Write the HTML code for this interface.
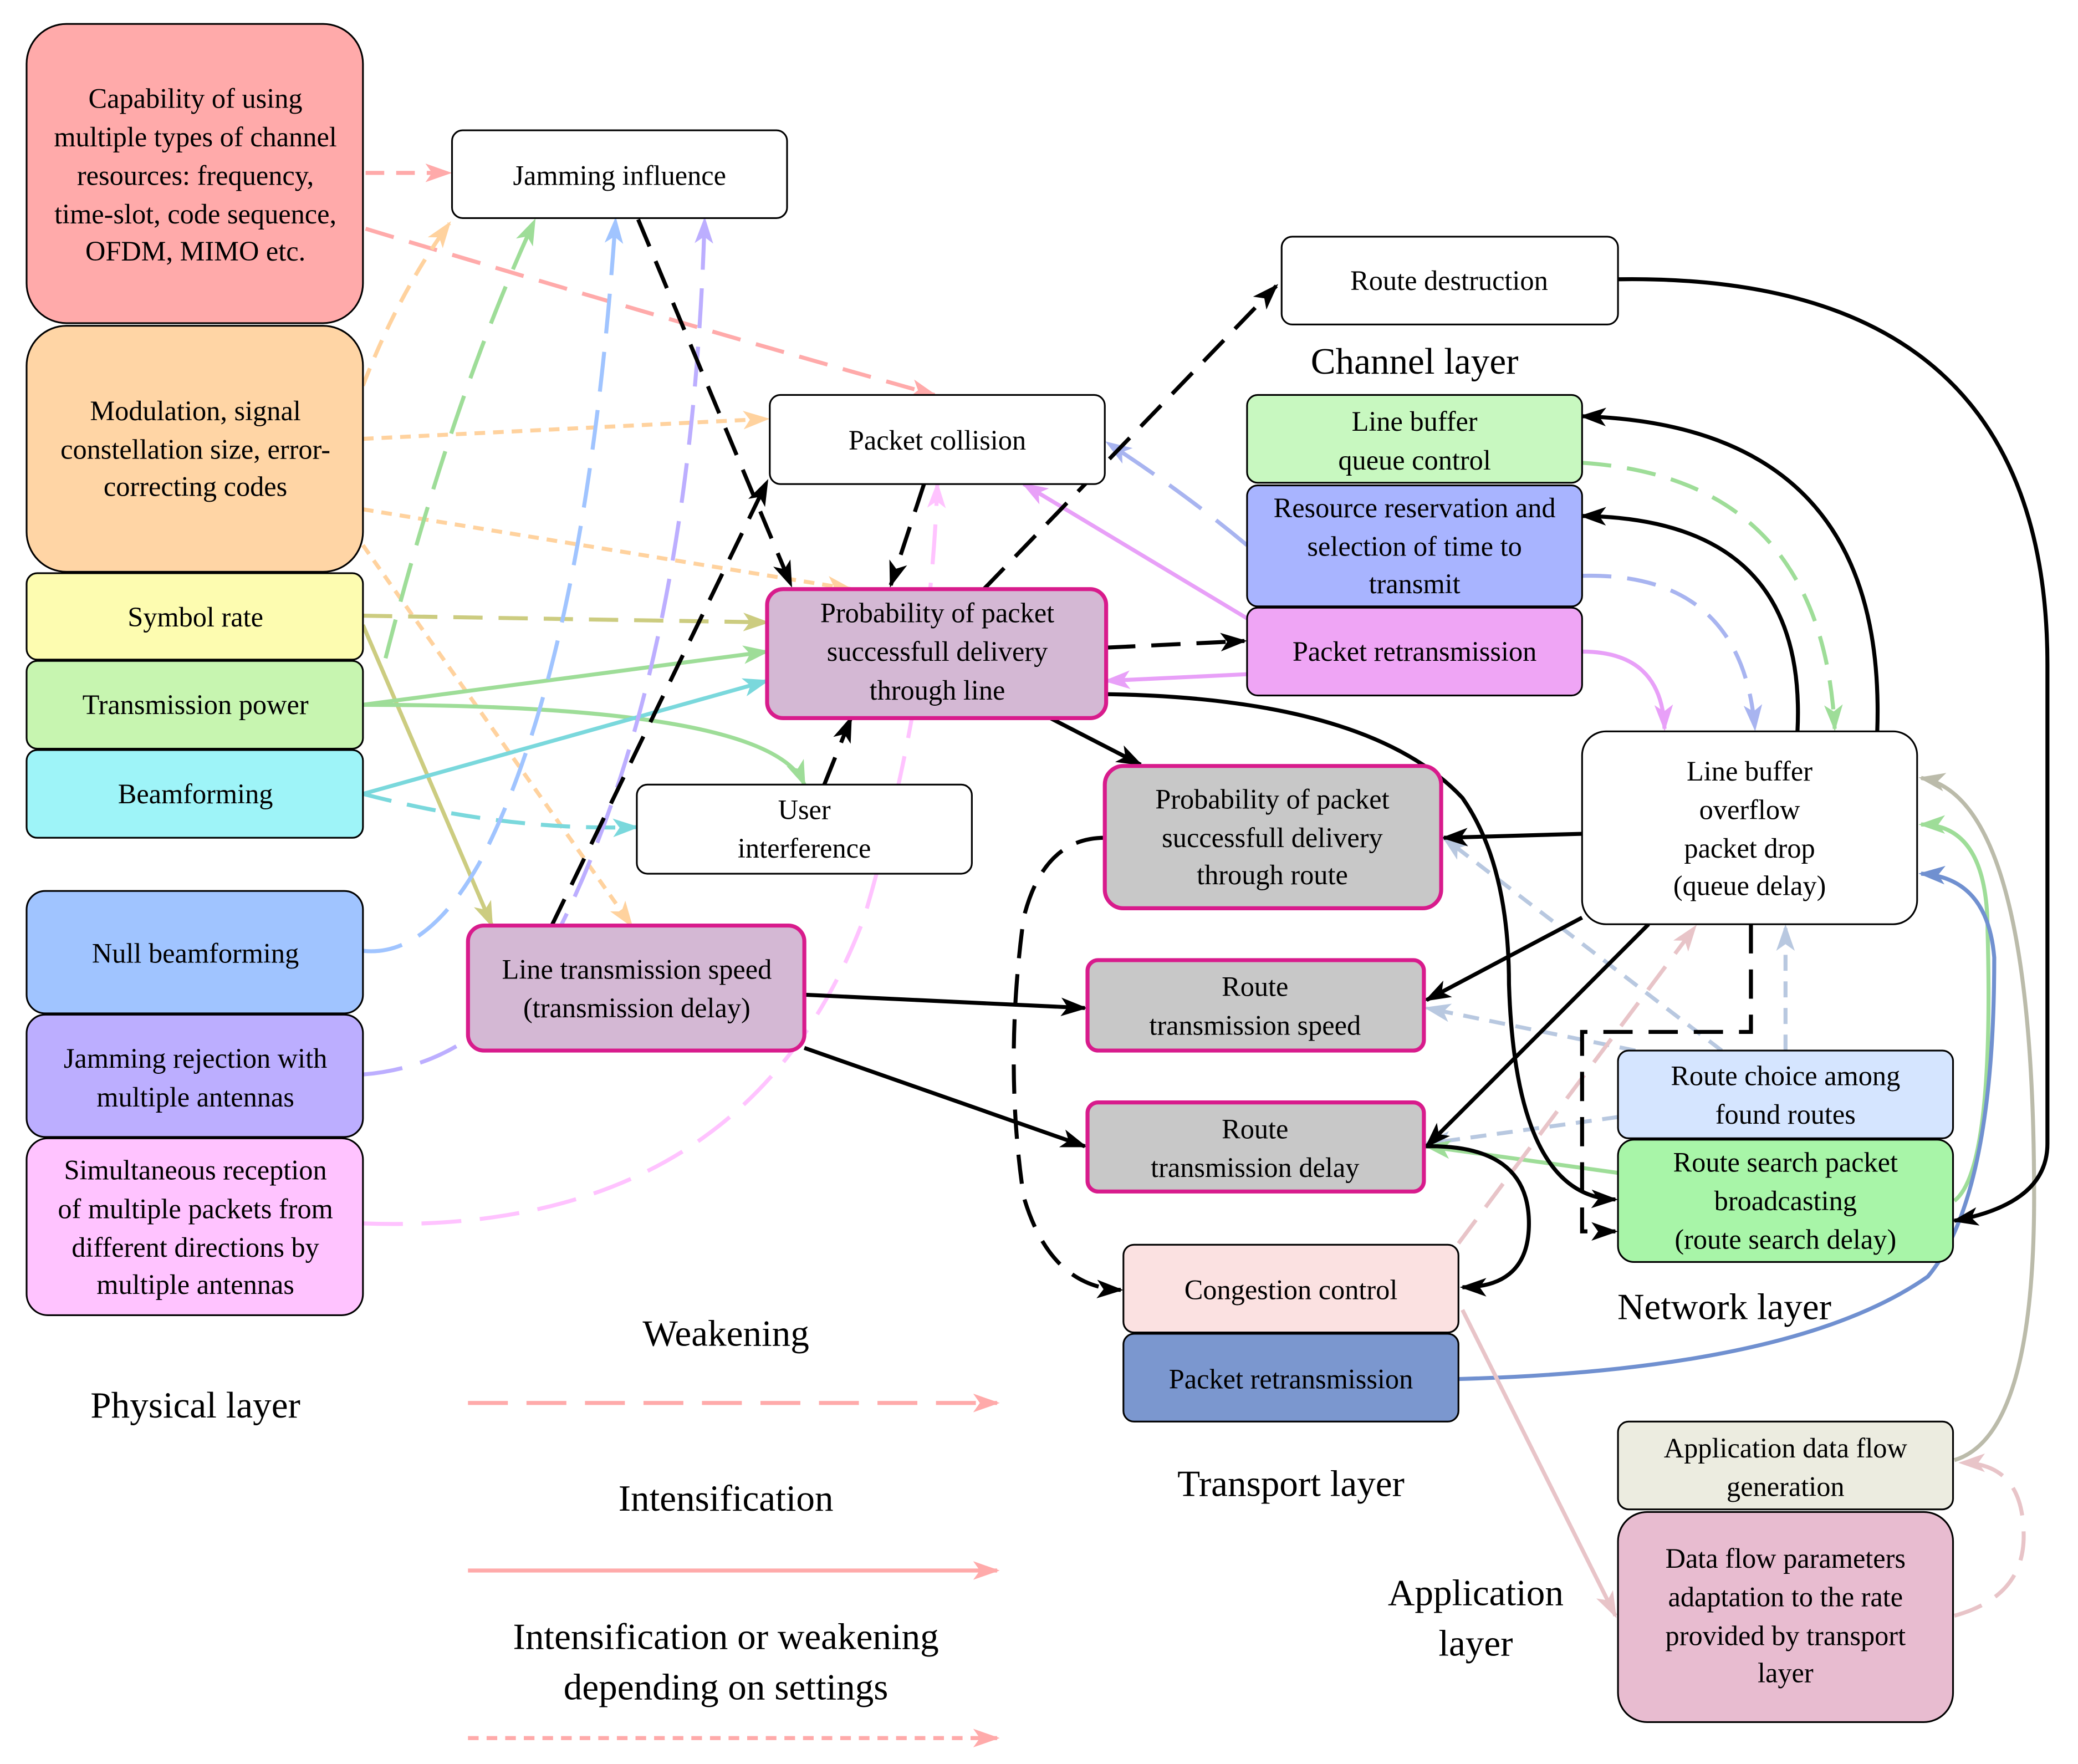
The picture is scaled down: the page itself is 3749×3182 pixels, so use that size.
<!DOCTYPE html>
<html><head><meta charset="utf-8"><style>html,body{margin:0;padding:0;background:#fff}svg{display:block;font-family:"Liberation Serif",serif}</style></head><body>
<svg xmlns="http://www.w3.org/2000/svg" width="3749" height="3182" viewBox="0 0 1563 1326.5" preserveAspectRatio="none" font-family="'Liberation Serif', serif">
<defs>
<marker id="mk" viewBox="0 0 20 14" refX="18" refY="7" markerWidth="20" markerHeight="14" markerUnits="userSpaceOnUse" orient="auto"><path d="M0,0 L20,7 L0,14 L5,7 Z" fill="#000"/></marker>
<marker id="ms" viewBox="0 0 20 14" refX="18" refY="7" markerWidth="20" markerHeight="14" markerUnits="userSpaceOnUse" orient="auto"><path d="M0,0 L20,7 L0,14 L5,7 Z" fill="#ffaaaa"/></marker>
<marker id="mo" viewBox="0 0 20 14" refX="18" refY="7" markerWidth="20" markerHeight="14" markerUnits="userSpaceOnUse" orient="auto"><path d="M0,0 L20,7 L0,14 L5,7 Z" fill="#ffd29e"/></marker>
<marker id="my" viewBox="0 0 20 14" refX="18" refY="7" markerWidth="20" markerHeight="14" markerUnits="userSpaceOnUse" orient="auto"><path d="M0,0 L20,7 L0,14 L5,7 Z" fill="#cccc80"/></marker>
<marker id="mg" viewBox="0 0 20 14" refX="18" refY="7" markerWidth="20" markerHeight="14" markerUnits="userSpaceOnUse" orient="auto"><path d="M0,0 L20,7 L0,14 L5,7 Z" fill="#9edd98"/></marker>
<marker id="mc" viewBox="0 0 20 14" refX="18" refY="7" markerWidth="20" markerHeight="14" markerUnits="userSpaceOnUse" orient="auto"><path d="M0,0 L20,7 L0,14 L5,7 Z" fill="#7ad8dc"/></marker>
<marker id="mb" viewBox="0 0 20 14" refX="18" refY="7" markerWidth="20" markerHeight="14" markerUnits="userSpaceOnUse" orient="auto"><path d="M0,0 L20,7 L0,14 L5,7 Z" fill="#a0c4ff"/></marker>
<marker id="mp" viewBox="0 0 20 14" refX="18" refY="7" markerWidth="20" markerHeight="14" markerUnits="userSpaceOnUse" orient="auto"><path d="M0,0 L20,7 L0,14 L5,7 Z" fill="#bcaeff"/></marker>
<marker id="mk2" viewBox="0 0 20 14" refX="18" refY="7" markerWidth="20" markerHeight="14" markerUnits="userSpaceOnUse" orient="auto"><path d="M0,0 L20,7 L0,14 L5,7 Z" fill="#ffc3ff"/></marker>
<marker id="mv" viewBox="0 0 20 14" refX="18" refY="7" markerWidth="20" markerHeight="14" markerUnits="userSpaceOnUse" orient="auto"><path d="M0,0 L20,7 L0,14 L5,7 Z" fill="#e8a0f8"/></marker>
<marker id="mt" viewBox="0 0 20 14" refX="18" refY="7" markerWidth="20" markerHeight="14" markerUnits="userSpaceOnUse" orient="auto"><path d="M0,0 L20,7 L0,14 L5,7 Z" fill="#a8b4f0"/></marker>
<marker id="ml" viewBox="0 0 20 14" refX="18" refY="7" markerWidth="20" markerHeight="14" markerUnits="userSpaceOnUse" orient="auto"><path d="M0,0 L20,7 L0,14 L5,7 Z" fill="#b8c8e0"/></marker>
<marker id="mgr" viewBox="0 0 20 14" refX="18" refY="7" markerWidth="20" markerHeight="14" markerUnits="userSpaceOnUse" orient="auto"><path d="M0,0 L20,7 L0,14 L5,7 Z" fill="#bbbbaa"/></marker>
<marker id="mbl" viewBox="0 0 20 14" refX="18" refY="7" markerWidth="20" markerHeight="14" markerUnits="userSpaceOnUse" orient="auto"><path d="M0,0 L20,7 L0,14 L5,7 Z" fill="#7090d0"/></marker>
<marker id="mr" viewBox="0 0 20 14" refX="18" refY="7" markerWidth="20" markerHeight="14" markerUnits="userSpaceOnUse" orient="auto"><path d="M0,0 L20,7 L0,14 L5,7 Z" fill="#e8c4c8"/></marker>
</defs>

<g fill="none" stroke-width="3">
<path d="M275,130 L338,130" stroke="#ffaaaa" stroke-dasharray="14 9" marker-end="url(#ms)"/>
<path d="M275,172 Q500,240 703,297" stroke="#ffaaaa" stroke-dasharray="22 12" marker-end="url(#ms)"/>
<path d="M273,290 Q300,220 338,168" stroke="#ffd29e" stroke-dasharray="14 9" marker-end="url(#mo)"/>
<path d="M273,330 L577,315" stroke="#ffd29e" stroke-dasharray="8 6" marker-end="url(#mo)"/>
<path d="M273,383 L640,443" stroke="#ffd29e" stroke-dasharray="8 6" marker-end="url(#mo)"/>
<path d="M273,410 L475,696" stroke="#ffd29e" stroke-dasharray="8 6" marker-end="url(#mo)"/>
<path d="M273,463 L577,468" stroke="#cccc80" stroke-dasharray="22 12" marker-end="url(#my)"/>
<path d="M273,470 L370,696" stroke="#cccc80" marker-end="url(#my)"/>
<path d="M290,495 Q340,300 402,166" stroke="#9edd98" stroke-dasharray="30 14" marker-end="url(#mg)"/>
<path d="M273,530 L577,490" stroke="#9edd98" marker-end="url(#mg)"/>
<path d="M273,530 Q580,530 605,590" stroke="#9edd98" marker-end="url(#mg)"/>
<path d="M273,597 L577,512" stroke="#7ad8dc" marker-end="url(#mc)"/>
<path d="M273,597 Q380,625 479,622" stroke="#7ad8dc" stroke-dasharray="22 12" marker-end="url(#mc)"/>
<path d="M273,715 Q320,720 360,650 Q440,500 463,165" stroke="#a0c4ff" stroke-dasharray="30 14" marker-end="url(#mb)"/>
<path d="M273,808 Q370,800 420,700 Q520,500 530,165" stroke="#bcaeff" stroke-dasharray="30 14" marker-end="url(#mp)"/>
<path d="M273,920 Q560,930 650,690 Q700,520 705,364" stroke="#ffc3ff" stroke-dasharray="30 14" marker-end="url(#mk2)"/>
<path d="M938,465 L770,364" stroke="#e8a0f8" marker-end="url(#mv)"/>
<path d="M938,507 L832,512" stroke="#e8a0f8" marker-end="url(#mv)"/>
<path d="M938,410 Q890,370 833,333" stroke="#a8b4f0" stroke-dasharray="30 14" marker-end="url(#mt)"/>
<path d="M1190,348 Q1370,360 1380,548" stroke="#9edd98" stroke-dasharray="22 12" marker-end="url(#mg)"/>
<path d="M1190,433 Q1310,430 1320,548" stroke="#a8b4f0" stroke-dasharray="22 12" marker-end="url(#mt)"/>
<path d="M1190,490 Q1250,490 1252,548" stroke="#e8a0f8" marker-end="url(#mv)"/>
<path d="M1295,790 L1086,630" stroke="#b8c8e0" stroke-dasharray="12 8" marker-end="url(#ml)"/>
<path d="M1230,790 L1073,758" stroke="#b8c8e0" stroke-dasharray="12 8" marker-end="url(#ml)"/>
<path d="M1343,790 L1343,697" stroke="#b8c8e0" stroke-dasharray="12 8" marker-end="url(#ml)"/>
<path d="M1217,840 L1073,860" stroke="#b8c8e0" stroke-dasharray="12 8" marker-end="url(#ml)"/>
<path d="M1217,882 L1073,862" stroke="#9edd98" marker-end="url(#mg)"/>
<path d="M1470,903 Q1500,880 1495,700 Q1495,620 1445,620" stroke="#9edd98" marker-end="url(#mg)"/>
<path d="M1097,1037 Q1350,1030 1450,960 Q1500,900 1500,720 Q1495,660 1445,657" stroke="#7090d0" marker-end="url(#mbl)"/>
<path d="M1470,1098 Q1530,1080 1530,900 Q1530,600 1445,585" stroke="#bbbbaa" marker-end="url(#mgr)"/>
<path d="M1470,1215 Q1525,1200 1522,1150 Q1520,1100 1475,1100" stroke="#e8c4c8" stroke-dasharray="22 12" marker-end="url(#mr)"/>
<path d="M1100,985 L1215,1215" stroke="#e8c4c8" marker-end="url(#mr)"/>
<path d="M1097,935 L1275,697" stroke="#e8c4c8" stroke-dasharray="22 12" marker-end="url(#mr)"/>
<path d="M480,165 L595,440" stroke="#000" stroke-dasharray="22 12" marker-end="url(#mk)"/>
<path d="M695,364 L670,440" stroke="#000" stroke-dasharray="22 12" marker-end="url(#mk)"/>
<path d="M620,590 L640,540" stroke="#000" stroke-dasharray="22 12" marker-end="url(#mk)"/>
<path d="M415,696 L577,362" stroke="#000" stroke-dasharray="22 12" marker-end="url(#mk)"/>
<path d="M740,443 L960,215" stroke="#000" stroke-dasharray="22 12" marker-end="url(#mk)"/>
<path d="M832,487 L936,482" stroke="#000" stroke-dasharray="22 12" marker-end="url(#mk)"/>
<path d="M790,540 L858,575" stroke="#000" marker-end="url(#mk)"/>
<path d="M832,522 Q1030,525 1100,600 Q1135,650 1135,740 Q1140,900 1215,902" stroke="#000" marker-end="url(#mk)"/>
<path d="M1317,695 L1317,776 L1190,776 L1190,926 L1215,926" stroke="#000" stroke-dasharray="22 12" marker-end="url(#mk)"/>
<path d="M605,748 L816,758" stroke="#000" marker-end="url(#mk)"/>
<path d="M605,788 L816,862" stroke="#000" marker-end="url(#mk)"/>
<path d="M1217,210 Q1540,205 1540,500 L1540,860 Q1540,905 1470,918" stroke="#000" marker-end="url(#mk)"/>
<path d="M1412,550 Q1420,320 1190,313" stroke="#000" marker-end="url(#mk)"/>
<path d="M1352,550 Q1360,390 1190,388" stroke="#000" marker-end="url(#mk)"/>
<path d="M1190,627 L1086,630" stroke="#000" marker-end="url(#mk)"/>
<path d="M1190,690 L1073,752" stroke="#000" marker-end="url(#mk)"/>
<path d="M1240,695 L1073,862" stroke="#000" marker-end="url(#mk)"/>
<path d="M1071,862 Q1150,860 1150,920 Q1150,968 1100,968" stroke="#000" marker-end="url(#mk)"/>
<path d="M831,630 Q785,630 770,690 Q755,800 770,900 Q790,968 843,970" stroke="#000" stroke-dasharray="22 12" marker-end="url(#mk)"/>
<path d="M352,1055 L750,1055" stroke="#ffaaaa" stroke-dasharray="30 14" marker-end="url(#ms)"/>
<path d="M352,1181 L750,1181" stroke="#ffaaaa" marker-end="url(#ms)"/>
<path d="M352,1307 L750,1307" stroke="#ffaaaa" stroke-dasharray="8 6" marker-end="url(#ms)"/>
</g>

<g stroke="#000" stroke-width="1.3">
<rect x="20" y="18" width="253" height="225" rx="30" fill="#ffaaaa"/>
<rect x="20" y="245" width="253" height="185" rx="30" fill="#ffd5a5"/>
<rect x="20" y="431" width="253" height="65" rx="8" fill="#fdfcb0"/>
<rect x="20" y="497" width="253" height="66" rx="8" fill="#c7f5b0"/>
<rect x="20" y="564" width="253" height="66" rx="8" fill="#9ef4f8"/>
<rect x="20" y="670" width="253" height="92" rx="14" fill="#a0c4ff"/>
<rect x="20" y="763" width="253" height="92" rx="14" fill="#bcaeff"/>
<rect x="20" y="856" width="253" height="133" rx="16" fill="#ffc3ff"/>
<rect x="340" y="98" width="252" height="66" rx="8" fill="#fff"/>
<rect x="579" y="297" width="252" height="67" rx="8" fill="#fff"/>
<rect x="479" y="590" width="252" height="67" rx="8" fill="#fff"/>
<rect x="964" y="178" width="253" height="66" rx="8" fill="#fff"/>
<rect x="938" y="297" width="252" height="66" rx="8" fill="#c8f8c0"/>
<rect x="938" y="365" width="252" height="91" rx="8" fill="#a8b4ff"/>
<rect x="938" y="457" width="252" height="66" rx="8" fill="#efa5f5"/>
<rect x="1190" y="550" width="252" height="145" rx="18" fill="#fff"/>
<rect x="1217" y="790" width="252" height="66" rx="8" fill="#d5e5ff"/>
<rect x="1217" y="857" width="252" height="92" rx="12" fill="#a8f5a8"/>
<rect x="845" y="936" width="252" height="66" rx="8" fill="#fbe1e1"/>
<rect x="845" y="1003" width="252" height="66" rx="8" fill="#7b97cf"/>
<rect x="1217" y="1069" width="252" height="66" rx="8" fill="#ecece0"/>
<rect x="1217" y="1137" width="252" height="158" rx="22" fill="#e8bcd0"/>
</g>
<g stroke="#d81b8c" stroke-width="3">
<rect x="577" y="443" width="255" height="97" rx="12" fill="#d4b8d4"/>
<rect x="352" y="696" width="253" height="94" rx="12" fill="#d4b8d4"/>
<rect x="831" y="576" width="253" height="107" rx="14" fill="#c8c8c8"/>
<rect x="818" y="722" width="253" height="68" rx="8" fill="#c8c8c8"/>
<rect x="818" y="829" width="253" height="67" rx="8" fill="#c8c8c8"/>
</g>

<g font-size="21" text-anchor="middle" fill="#000" font-family="'Liberation Serif', serif">
<text x="147" y="81">Capability of using</text>
<text x="147" y="110">multiple types of channel</text>
<text x="147" y="139">resources: frequency,</text>
<text x="147" y="168">time-slot, code sequence,</text>
<text x="147" y="196">OFDM, MIMO etc.</text>
<text x="147" y="316">Modulation, signal</text>
<text x="147" y="345">constellation size, error-</text>
<text x="147" y="373">correcting codes</text>
<text x="147" y="471">Symbol rate</text>
<text x="147" y="537">Transmission power</text>
<text x="147" y="604">Beamforming</text>
<text x="147" y="724">Null beamforming</text>
<text x="147" y="803">Jamming rejection with</text>
<text x="147" y="832">multiple antennas</text>
<text x="147" y="887">Simultaneous reception</text>
<text x="147" y="916">of multiple packets from</text>
<text x="147" y="945">different directions by</text>
<text x="147" y="973">multiple antennas</text>
<text x="466" y="139">Jamming influence</text>
<text x="705" y="338">Packet collision</text>
<text x="705" y="468">Probability of packet</text>
<text x="705" y="497">successfull delivery</text>
<text x="705" y="526">through line</text>
<text x="605" y="616">User</text>
<text x="605" y="645">interference</text>
<text x="479" y="736">Line transmission speed</text>
<text x="479" y="765">(transmission delay)</text>
<text x="1090" y="218">Route destruction</text>
<text x="1064" y="324">Line buffer</text>
<text x="1064" y="353">queue control</text>
<text x="1064" y="389">Resource reservation and</text>
<text x="1064" y="418">selection of time to</text>
<text x="1064" y="446">transmit</text>
<text x="1064" y="497">Packet retransmission</text>
<text x="1316" y="587">Line buffer</text>
<text x="1316" y="616">overflow</text>
<text x="1316" y="645">packet drop</text>
<text x="1316" y="673">(queue delay)</text>
<text x="957" y="608">Probability of packet</text>
<text x="957" y="637">successfull delivery</text>
<text x="957" y="665">through route</text>
<text x="944" y="749">Route</text>
<text x="944" y="778">transmission speed</text>
<text x="944" y="856">Route</text>
<text x="944" y="885">transmission delay</text>
<text x="1343" y="816">Route choice among</text>
<text x="1343" y="845">found routes</text>
<text x="1343" y="881">Route search packet</text>
<text x="1343" y="910">broadcasting</text>
<text x="1343" y="939">(route search delay)</text>
<text x="971" y="977">Congestion control</text>
<text x="971" y="1044">Packet retransmission</text>
<text x="1343" y="1096">Application data flow</text>
<text x="1343" y="1125">generation</text>
<text x="1343" y="1179">Data flow parameters</text>
<text x="1343" y="1208">adaptation to the rate</text>
<text x="1343" y="1237">provided by transport</text>
<text x="1343" y="1265">layer</text>
</g>
<g font-size="28" text-anchor="middle" fill="#000" font-family="'Liberation Serif', serif">
<text x="1064" y="281">Channel layer</text>
<text x="1297" y="992">Network layer</text>
<text x="971" y="1125">Transport layer</text>
<text x="1110" y="1207">Application</text>
<text x="1110" y="1245">layer</text>
<text x="147" y="1066">Physical layer</text>
<text x="546" y="1012">Weakening</text>
<text x="546" y="1136">Intensification</text>
<text x="546" y="1240">Intensification or weakening</text>
<text x="546" y="1278">depending on settings</text>
</g>
</svg>
</body></html>
